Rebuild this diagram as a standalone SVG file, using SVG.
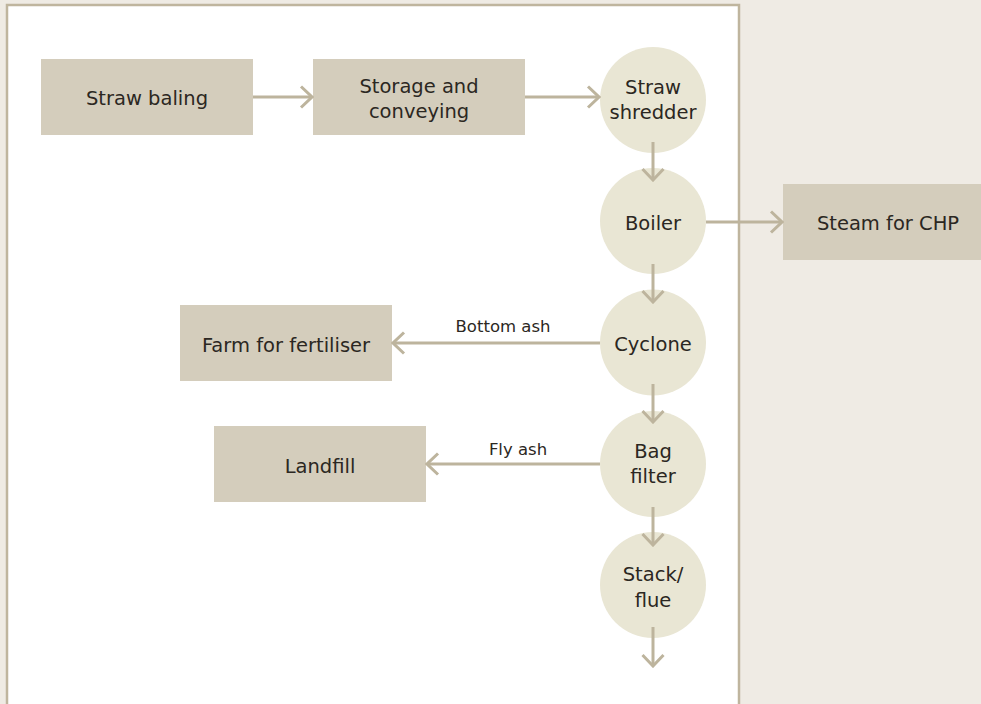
<svg xmlns="http://www.w3.org/2000/svg" width="981" height="704" viewBox="0 0 981 704">
<defs>
<style>
.box{fill:#d4cdbc}
.circ{fill:#e9e6d4}
.t{font-family:"DejaVu Sans","Liberation Sans",sans-serif;font-size:19.5px;fill:#2b2722;text-anchor:middle}
.lbl{font-family:"DejaVu Sans","Liberation Sans",sans-serif;font-size:16.5px;fill:#2b2722;text-anchor:middle}
.ln{stroke:#bdb49d;stroke-width:3;fill:none}
</style>
<marker id="ah" viewBox="0 0 20 24" markerWidth="20" markerHeight="24" refX="18" refY="12" orient="auto" markerUnits="userSpaceOnUse">
<path d="M7,1.5 L18,12 L7,22.5" fill="none" stroke="#bdb49d" stroke-width="3"/>
</marker>
</defs>
<rect x="0" y="0" width="981" height="704" fill="#efebe4"/>
<rect x="7" y="5" width="732" height="710" fill="#ffffff" stroke="#bfb59e" stroke-width="2.5"/>

<g id="straw-baling"><rect class="box" x="41" y="59" width="212" height="76"/><text class="t" x="147" y="104.5">Straw baling</text></g>
<g id="storage"><rect class="box" x="313" y="59" width="212" height="76"/><text class="t" x="419" y="92.5">Storage and</text><text class="t" x="419" y="117.5">conveying</text></g>
<g id="shredder"><circle class="circ" cx="653" cy="100" r="53"/><text class="t" x="653" y="93.5">Straw</text><text class="t" x="653" y="118.5">shredder</text></g>
<g id="boiler"><circle class="circ" cx="653" cy="221" r="53"/><text class="t" x="653" y="229.5">Boiler</text></g>
<g id="steam"><rect class="box" x="783" y="184" width="210" height="76"/><text class="t" x="888" y="229.5">Steam for CHP</text></g>
<g id="cyclone"><circle class="circ" cx="653" cy="342.5" r="53"/><text class="t" x="653" y="350.5">Cyclone</text></g>
<g id="farm"><rect class="box" x="180" y="305" width="212" height="76"/><text class="t" x="286" y="351.5">Farm for fertiliser</text></g>
<g id="bagfilter"><circle class="circ" cx="653" cy="464" r="53"/><text class="t" x="653" y="457.5">Bag</text><text class="t" x="653" y="482.5">filter</text></g>
<g id="landfill"><rect class="box" x="214" y="426" width="212" height="76"/><text class="t" x="320" y="472.5">Landfill</text></g>
<g id="stack"><circle class="circ" cx="653" cy="585" r="53"/><text class="t" x="653" y="580.5">Stack/</text><text class="t" x="653" y="606.5">flue</text></g>

<g id="connectors">
<line class="ln" x1="253" y1="97" x2="312" y2="97" marker-end="url(#ah)"/>
<line class="ln" x1="525" y1="97" x2="599" y2="97" marker-end="url(#ah)"/>
<line class="ln" x1="653" y1="142" x2="653" y2="180" marker-end="url(#ah)"/>
<line class="ln" x1="706" y1="222" x2="782" y2="222" marker-end="url(#ah)"/>
<line class="ln" x1="653" y1="264" x2="653" y2="302" marker-end="url(#ah)"/>
<line class="ln" x1="600" y1="343" x2="393" y2="343" marker-end="url(#ah)"/>
<line class="ln" x1="653" y1="384" x2="653" y2="422" marker-end="url(#ah)"/>
<line class="ln" x1="600" y1="464" x2="427" y2="464" marker-end="url(#ah)"/>
<line class="ln" x1="653" y1="507" x2="653" y2="545" marker-end="url(#ah)"/>
<line class="ln" x1="653" y1="627" x2="653" y2="666" marker-end="url(#ah)"/>
<text class="lbl" x="503" y="331.5">Bottom ash</text>
<text class="lbl" x="518" y="454.5">Fly ash</text>
</g>
</svg>
